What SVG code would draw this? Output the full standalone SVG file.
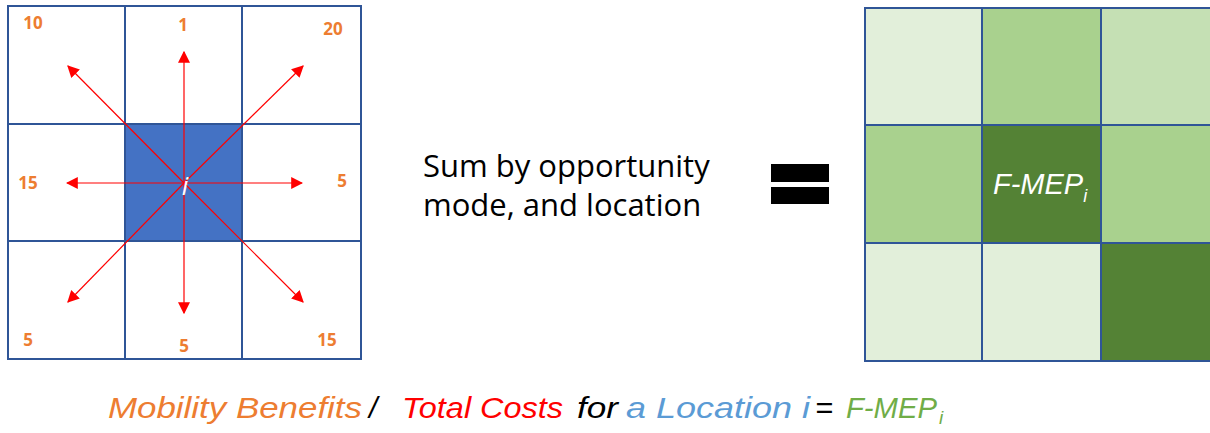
<svg xmlns="http://www.w3.org/2000/svg" width="1210" height="433" viewBox="0 0 1210 433">
<defs>
<style>
.cell{stroke:#2F5597;stroke-width:2}
.arrow{stroke:#FF0000;stroke-width:1.2;fill:none;marker-end:url(#ah)}
.num{font-family:"Open Sans","Liberation Sans",sans-serif;font-weight:bold;font-size:17px;fill:#ED7D31;text-anchor:middle}
.mid{font-family:"Open Sans","Liberation Sans",sans-serif;font-size:31px;fill:#000}
.bot{font-family:"Liberation Sans",sans-serif;font-style:italic;font-size:30px}
</style>
<marker id="ah" viewBox="0 0 10 10" refX="9" refY="5" markerWidth="12" markerHeight="12" markerUnits="userSpaceOnUse" orient="auto">
<path d="M0,0 L10,5 L0,10 z" fill="#FF0000"/>
</marker>
</defs>
<rect width="1210" height="433" fill="#fff"/>
<g id="left-grid">
<rect class="cell" x="8" y="6" width="117" height="118" fill="#fff"/>
<rect class="cell" x="125" y="6" width="117" height="118" fill="#fff"/>
<rect class="cell" x="242" y="6" width="119" height="118" fill="#fff"/>
<rect class="cell" x="8" y="124" width="117" height="117" fill="#fff"/>
<rect class="cell" x="125" y="124" width="117" height="117" fill="#4472C4"/>
<rect class="cell" x="242" y="124" width="119" height="117" fill="#fff"/>
<rect class="cell" x="8" y="241" width="117" height="118" fill="#fff"/>
<rect class="cell" x="125" y="241" width="117" height="118" fill="#fff"/>
<rect class="cell" x="242" y="241" width="119" height="118" fill="#fff"/>
</g>
<g id="connectors">
<line class="arrow" x1="184" y1="183" x2="184" y2="52"/>
<line class="arrow" x1="184" y1="183" x2="184" y2="313"/>
<line class="arrow" x1="184" y1="183" x2="67" y2="183"/>
<line class="arrow" x1="184" y1="183" x2="302" y2="183"/>
<line class="arrow" x1="184" y1="183" x2="68" y2="66"/>
<line class="arrow" x1="184" y1="183" x2="303" y2="66"/>
<line class="arrow" x1="184" y1="183" x2="68" y2="302"/>
<line class="arrow" x1="184" y1="183" x2="303" y2="302"/>
</g>
<g id="labels">
<text class="num" x="33" y="29">10</text>
<text class="num" x="183" y="31">1</text>
<text class="num" x="333" y="35">20</text>
<text class="num" x="28" y="189">15</text>
<text class="num" x="342" y="187">5</text>
<text class="num" x="28" y="346">5</text>
<text class="num" x="184" y="352">5</text>
<text class="num" x="327" y="346">15</text>
<text x="185" y="195" font-family="Open Sans, Liberation Sans, sans-serif" font-style="italic" font-size="26" fill="#fff" text-anchor="middle">i</text>
</g>
<g id="middle-text">
<text class="mid" x="423" y="177">Sum by opportunity</text>
<text class="mid" x="423" y="216">mode, and location</text>
</g>
<g id="equals">
<rect x="771" y="164" width="58" height="18" fill="#000"/>
<rect x="771" y="187" width="58" height="17" fill="#000"/>
</g>
<g id="right-grid">
<rect class="cell" x="865" y="8" width="117" height="117" fill="#E2EFDA"/>
<rect class="cell" x="982" y="8" width="119" height="117" fill="#A9D18E"/>
<rect class="cell" x="1101" y="8" width="119" height="117" fill="#C5E0B4"/>
<rect class="cell" x="865" y="125" width="117" height="118" fill="#A9D18E"/>
<rect class="cell" x="982" y="125" width="119" height="118" fill="#548235"/>
<rect class="cell" x="1101" y="125" width="119" height="118" fill="#A9D18E"/>
<rect class="cell" x="865" y="243" width="117" height="118" fill="#E2EFDA"/>
<rect class="cell" x="982" y="243" width="119" height="118" fill="#E2EFDA"/>
<rect class="cell" x="1101" y="243" width="119" height="118" fill="#548235"/>
<text x="993" y="194" font-family="Liberation Sans, sans-serif" font-style="italic" font-size="29" fill="#fff">F-MEP<tspan font-size="18" dy="8">i</tspan></text>
</g>
<g id="bottom-text">
<text class="bot" y="418"><tspan x="108" fill="#ED7D31" textLength="254" lengthAdjust="spacingAndGlyphs">Mobility Benefits</tspan><tspan x="369" fill="#000">/</tspan><tspan x="402" fill="#FF0000" textLength="161" lengthAdjust="spacingAndGlyphs">Total Costs</tspan><tspan x="577" fill="#000" textLength="41" lengthAdjust="spacingAndGlyphs">for</tspan><tspan x="626" fill="#5B9BD5" textLength="184" lengthAdjust="spacingAndGlyphs">a Location i</tspan><tspan x="815" fill="#000" textLength="18" lengthAdjust="spacingAndGlyphs">=</tspan><tspan x="846" fill="#70AD47" textLength="91" lengthAdjust="spacingAndGlyphs">F-MEP</tspan><tspan x="939" dy="6" font-size="19" fill="#70AD47">i</tspan></text>
</g>
</svg>
